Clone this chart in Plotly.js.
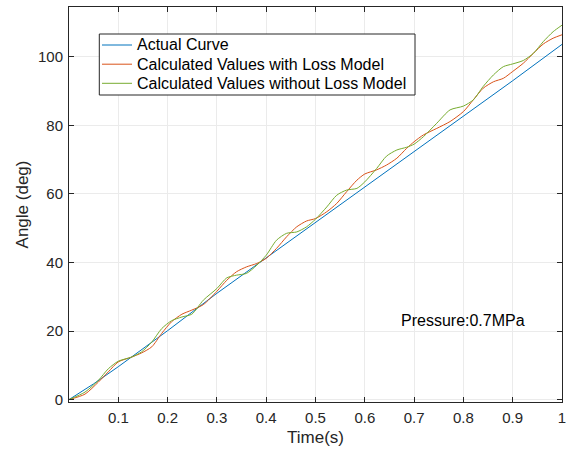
<!DOCTYPE html>
<html>
<head>
<meta charset="utf-8">
<script src="https://cdn.plot.ly/plotly-3.0.1.min.js"></script>
<style>html,body{margin:0;padding:0;background:#fff;}#chart{width:570px;height:451px;}</style>
</head>
<body>
<div id="chart"></div>
<script>
// Actual curve
const actualT = [0, 0.05, 0.1, 0.2, 0.3, 0.4, 0.5, 0.6, 0.7, 0.8, 0.9, 1.0];
const actualY = [0, 4.6, 9.6, 20.1, 31.0, 41.3, 51.7, 62.0, 72.3, 82.6, 93.0, 103.6];

// Calculated values with loss model
const lossT = [0, 0.0325, 0.0595, 0.0798, 0.1, 0.127, 0.147, 0.168, 0.188, 0.208, 0.229, 0.249,
  0.2725, 0.3, 0.32, 0.34, 0.36, 0.381, 0.4, 0.421, 0.4415, 0.462, 0.482, 0.5, 0.523, 0.543,
  0.563, 0.584, 0.6, 0.624, 0.644, 0.665, 0.685, 0.7, 0.719, 0.746, 0.773, 0.8, 0.82, 0.84,
  0.861, 0.881, 0.9, 0.9215, 0.942, 0.962, 0.982, 1.0];
const lossY = [0, 1.6, 5.1, 8.1, 11.0, 12.4, 13.6, 15.4, 19.3, 22.7, 24.9, 26.1,
  27.7, 31.6, 34.8, 37.3, 38.7, 39.7, 41.2, 44.1, 47.5, 50.4, 52.1, 52.8, 54.8, 57.2,
  60.6, 64.0, 65.8, 67.0, 68.4, 70.4, 73.3, 75.2, 77.2, 79.1, 81.1, 84.0, 87.4, 90.8,
  92.7, 93.7, 95.7, 98.1, 101.0, 103.7, 105.4, 106.4];

// Calculated values without loss model
const noLossT = [0, 0.0325, 0.0595, 0.0798, 0.1, 0.127, 0.147, 0.168, 0.188, 0.208, 0.229, 0.249,
  0.2725, 0.3, 0.32, 0.34, 0.36, 0.381, 0.4, 0.421, 0.4415, 0.462, 0.482, 0.5, 0.523, 0.543,
  0.563, 0.584, 0.6, 0.624, 0.644, 0.665, 0.685, 0.7, 0.719, 0.746, 0.773, 0.8, 0.82, 0.84,
  0.861, 0.881, 0.9, 0.9215, 0.942, 0.962, 0.982, 1.0];
const noLossY = [0, 2.2, 5.6, 9.0, 11.2, 12.4, 13.9, 16.8, 20.7, 23.0, 24.1, 24.9,
  29.0, 32.4, 35.5, 36.3, 36.8, 39.2, 42.1, 46.5, 48.5, 48.9, 50.4, 52.6, 56.2, 59.6,
  61.1, 61.6, 63.5, 67.4, 71.0, 72.8, 73.6, 74.5, 76.7, 80.6, 84.5, 85.6, 87.4, 91.3,
  94.7, 97.1, 97.9, 98.9, 101.0, 104.4, 107.3, 109.2];

const xTicks = [0.1, 0.2, 0.3, 0.4, 0.5, 0.6, 0.7, 0.8, 0.9, 1];
const xTickText = ['0.1', '0.2', '0.3', '0.4', '0.5', '0.6', '0.7', '0.8', '0.9', '1'];
const yTicks = [0, 20, 40, 60, 80, 100];

const names = ['Actual Curve', 'Calculated Values with Loss Model', 'Calculated Values without Loss Model'];
const colors = ['#0072BD', '#D95319', '#77AC30'];

const FONT = 'Liberation Sans, Arial, Helvetica, sans-serif';

const traces = [
  {x: actualT, y: actualY, name: names[0], mode: 'lines', line: {color: colors[0], width: 1}},
  {x: lossT, y: lossY, name: names[1], mode: 'lines', line: {color: colors[1], width: 1, shape: 'spline', smoothing: 0.7}},
  {x: noLossT, y: noLossY, name: names[2], mode: 'lines', line: {color: colors[2], width: 1, shape: 'spline', smoothing: 0.7}}
];

// Plot-area geometry (pixels) used to place the MATLAB-style legend box
const W = 570, H = 451, ML = 69, MR = 8, MT = 7, MB = 49;
const PW = W - ML - MR, PH = H - MT - MB;
const px2x = p => (p - ML) / PW;
const py2y = p => (H - MB - p) / PH;

const legendBox = {x0: 99.3, x1: 415, y0: 34, y1: 95};
const legendRows = [45, 64.2, 83.3];
const shapes = [{
  type: 'rect', xref: 'paper', yref: 'paper',
  x0: px2x(legendBox.x0), x1: px2x(legendBox.x1), y0: py2y(legendBox.y1), y1: py2y(legendBox.y0),
  line: {color: '#262626', width: 1}, fillcolor: '#ffffff', layer: 'above'
}];
const annotations = [{
  x: 0.670, y: 23, xref: 'x', yref: 'y', xanchor: 'left', yanchor: 'middle',
  text: 'Pressure:0.7MPa', showarrow: false,
  font: {family: FONT, size: 16, color: '#000000'}
}];
names.forEach((n, i) => {
  shapes.push({
    type: 'line', xref: 'paper', yref: 'paper',
    x0: px2x(102), x1: px2x(132), y0: py2y(legendRows[i]), y1: py2y(legendRows[i]),
    line: {color: colors[i], width: 1}, layer: 'above'
  });
  annotations.push({
    x: px2x(134.5), y: py2y(legendRows[i]), xref: 'paper', yref: 'paper',
    xanchor: 'left', yanchor: 'middle', text: n, showarrow: false,
    font: {family: FONT, size: 16, color: '#000000'}
  });
});

const axisCommon = {
  showline: true, linecolor: '#262626', linewidth: 1, mirror: 'ticks',
  ticks: 'inside', ticklen: 5, tickcolor: '#262626', tickwidth: 1,
  showgrid: true, gridcolor: '#ebebeb', gridwidth: 1, zeroline: false,
  tickfont: {family: FONT, size: 15, color: '#262626'}
};

const layout = {
  width: W, height: H,
  margin: {l: ML, r: MR, t: MT, b: MB},
  paper_bgcolor: '#ffffff', plot_bgcolor: '#ffffff',
  font: {family: FONT, color: '#262626'},
  showlegend: false,
  xaxis: Object.assign({}, axisCommon, {
    range: [0, 1], tickvals: xTicks, ticktext: xTickText, ticklabelstandoff: 2,
    title: {text: 'Time(s)', font: {family: FONT, size: 17, color: '#262626'}, standoff: 6}
  }),
  yaxis: Object.assign({}, axisCommon, {
    range: [-0.7, 114.5], tickvals: yTicks, ticklabelstandoff: 2,
    title: {text: 'Angle (deg)', font: {family: FONT, size: 17, color: '#262626'}, standoff: 5}
  }),
  shapes: shapes,
  annotations: annotations
};

Plotly.newPlot('chart', traces, layout, {displayModeBar: false, staticPlot: true});
</script>
</body>
</html>
